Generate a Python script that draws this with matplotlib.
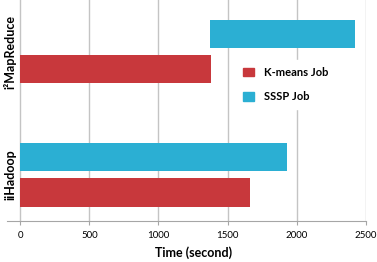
import matplotlib
matplotlib.use('Agg')
import matplotlib.pyplot as plt
from matplotlib.patches import Patch

# data
categories = ['iiHadoop', 'i²MapReduce']
kmeans_start = [0, 0]
kmeans_end = [1660, 1380]
sssp_start = [0, 1375]
sssp_end = [1930, 2420]
xticks = [0, 500, 1000, 1500, 2000, 2500]

red = '#C8383C'
blue = '#2BAFD3'
grid_col = '#C4C4C4'

plt.rcParams['font.family'] = ['Lato', 'DejaVu Sans']

fig = plt.figure(figsize=(3.77, 2.62), dpi=100)
ax = fig.add_axes([7 / 377, 1 - 221 / 262, (366 - 7) / 377, 221 / 262])

ypos = list(range(len(categories)))
h = 0.23
off = 0.143
ax.barh([y - off for y in ypos],
        [e - s for s, e in zip(kmeans_start, kmeans_end)],
        left=kmeans_start, height=h, color=red, zorder=3, label='K-means Job')
ax.barh([y + off for y in ypos],
        [e - s for s, e in zip(sssp_start, sssp_end)],
        left=sssp_start, height=h, color=blue, zorder=3, label='SSSP Job')

ax.set_xlim(-95, 2500)
ax.set_ylim(-0.375, 1.418)
ax.set_xticks(xticks)
ax.set_xticklabels([str(t) for t in xticks], fontsize=7)
for t in xticks:
    ax.axvline(t, color=grid_col, lw=1, zorder=1)

ax.set_yticks([])
for y, c in zip(ypos, categories):
    ax.text((10.5 - 7) / 359, y, c, transform=ax.get_yaxis_transform(), rotation=90,
            ha='center', va='center', fontsize=9, fontweight='bold', zorder=4)

for s in ['top', 'right', 'left']:
    ax.spines[s].set_visible(False)
ax.spines['bottom'].set_color('#A6A6A6')
ax.tick_params(axis='x', length=3, color='#A6A6A6', pad=4)
ax.set_xlabel('Time (second)', fontsize=9, fontweight='bold')
ax.xaxis.set_label_coords((194 - 7) / 359, -(246 - 221) / 221)

handles = [Patch(color=red), Patch(color=blue)]
leg = ax.legend(handles, ['K-means Job', 'SSSP Job'],
                loc='center left', bbox_to_anchor=(231 / 377, 1 - 84.5 / 262),
                bbox_transform=fig.transFigure, frameon=True, fancybox=False,
                edgecolor='white', framealpha=1, borderpad=0.6,
                handlelength=0.95, handleheight=0.8, handletextpad=0.9,
                labelspacing=1.2, prop={'weight': 'bold', 'size': 8})
leg.set_zorder(5)

fig.savefig('out.png', dpi=100)
